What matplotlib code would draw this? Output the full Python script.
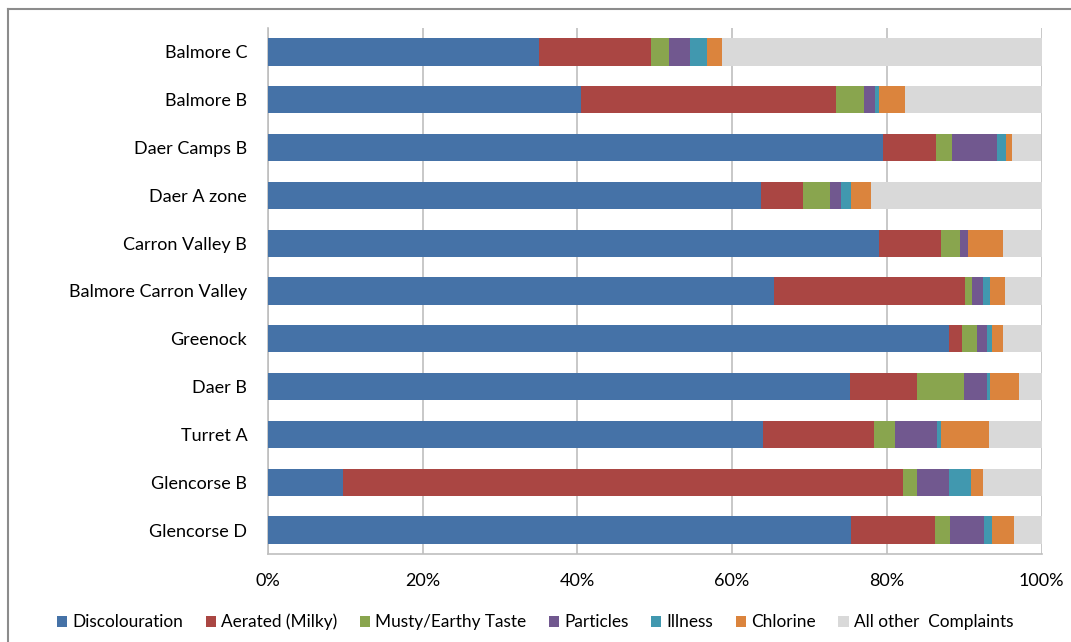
import numpy as np
import matplotlib.pyplot as plt
from matplotlib.lines import Line2D

plt.rcParams['font.family'] = ['Lato', 'DejaVu Sans']

# Sites, top to bottom as shown
sites = ["Balmore C", "Balmore B", "Daer Camps B", "Daer A zone", "Carron Valley B",
         "Balmore Carron Valley", "Greenock", "Daer B", "Turret A", "Glencorse B",
         "Glencorse D"]

categories = ["Discolouration", "Aerated (Milky)", "Musty/Earthy Taste", "Particles",
              "Illness", "Chlorine", "All other  Complaints"]

# percentage share per category (same order as sites)
discolouration = [35.1, 40.5, 79.5, 63.7, 79.0, 65.4, 88.1, 75.2, 64.0, 9.7, 75.4]
aerated        = [14.4, 32.9,  6.9,  5.5,  8.0, 24.7,  1.6,  8.7, 14.4, 72.4, 10.8]
musty          = [ 2.4,  3.7,  2.0,  3.5,  2.4,  0.9,  2.0,  6.1,  2.7,  1.8,  2.0]
particles      = [ 2.7,  1.4,  5.8,  1.4,  1.1,  1.5,  1.3,  3.0,  5.4,  4.1,  4.4]
illness        = [ 2.2,  0.5,  1.2,  1.3,  0.0,  0.8,  0.6,  0.3,  0.5,  2.9,  1.0]
chlorine       = [ 1.9,  3.4,  0.8,  2.5,  4.5,  2.0,  1.4,  3.8,  6.2,  1.6,  2.9]
other          = [41.3, 17.6,  3.7, 22.1,  5.0,  4.7,  5.0,  2.9,  6.8,  7.5,  3.5]

series = [discolouration, aerated, musty, particles, illness, chlorine, other]
colors = ["#4572A7", "#AA4643", "#89A54E", "#71588F", "#4198AF", "#DB843D", "#D9D9D9"]

W, H = 1071, 642
fig = plt.figure(figsize=(W / 100, H / 100), dpi=100)
ax = fig.add_axes([268 / W, 1 - 554 / H, (1041.5 - 268) / W, (554 - 28) / H])

y = np.arange(len(sites))
left = np.zeros(len(sites))
for vals, col, name in zip(series, colors, categories):
    vals = np.array(vals)
    ax.barh(y, vals, left=left, height=0.57, color=col, label=name, zorder=3)
    left += vals

ax.set_ylim(len(sites) - 0.5, -0.5)
ax.set_xlim(0, 100)
ax.set_yticks(y)
ax.set_yticklabels(sites, fontsize=13)
ax.set_xticks(np.arange(0, 101, 20))
ax.set_xticklabels([f"{v}%" for v in range(0, 101, 20)], fontsize=13)
ax.tick_params(axis="y", length=0, pad=15)
ax.tick_params(axis="x", length=0, pad=14)
ax.xaxis.grid(True, color="#BFBFBF", linewidth=1.2, zorder=0)
ax.spines["top"].set_visible(False)
ax.spines["right"].set_visible(False)
for side in ["left", "bottom"]:
    ax.spines[side].set_color("#BFBFBF")
    ax.spines[side].set_linewidth(1.2)

fig.legend(loc="center", bbox_to_anchor=(535 / W, 1 - 622 / H), ncol=7,
           frameon=False, fontsize=12.4, handlelength=0.6, handleheight=0.6,
           handletextpad=0.3, columnspacing=1.3)

# chart frame (top and left edges visible in the original)
fig.add_artist(Line2D([8 / W, 1], [1 - 9 / H, 1 - 9 / H], transform=fig.transFigure,
                      color="#8C8C8C", linewidth=1.5))
fig.add_artist(Line2D([8 / W, 8 / W], [0, 1 - 9 / H], transform=fig.transFigure,
                      color="#8C8C8C", linewidth=1.5))

fig.savefig("out.png", dpi=100)
